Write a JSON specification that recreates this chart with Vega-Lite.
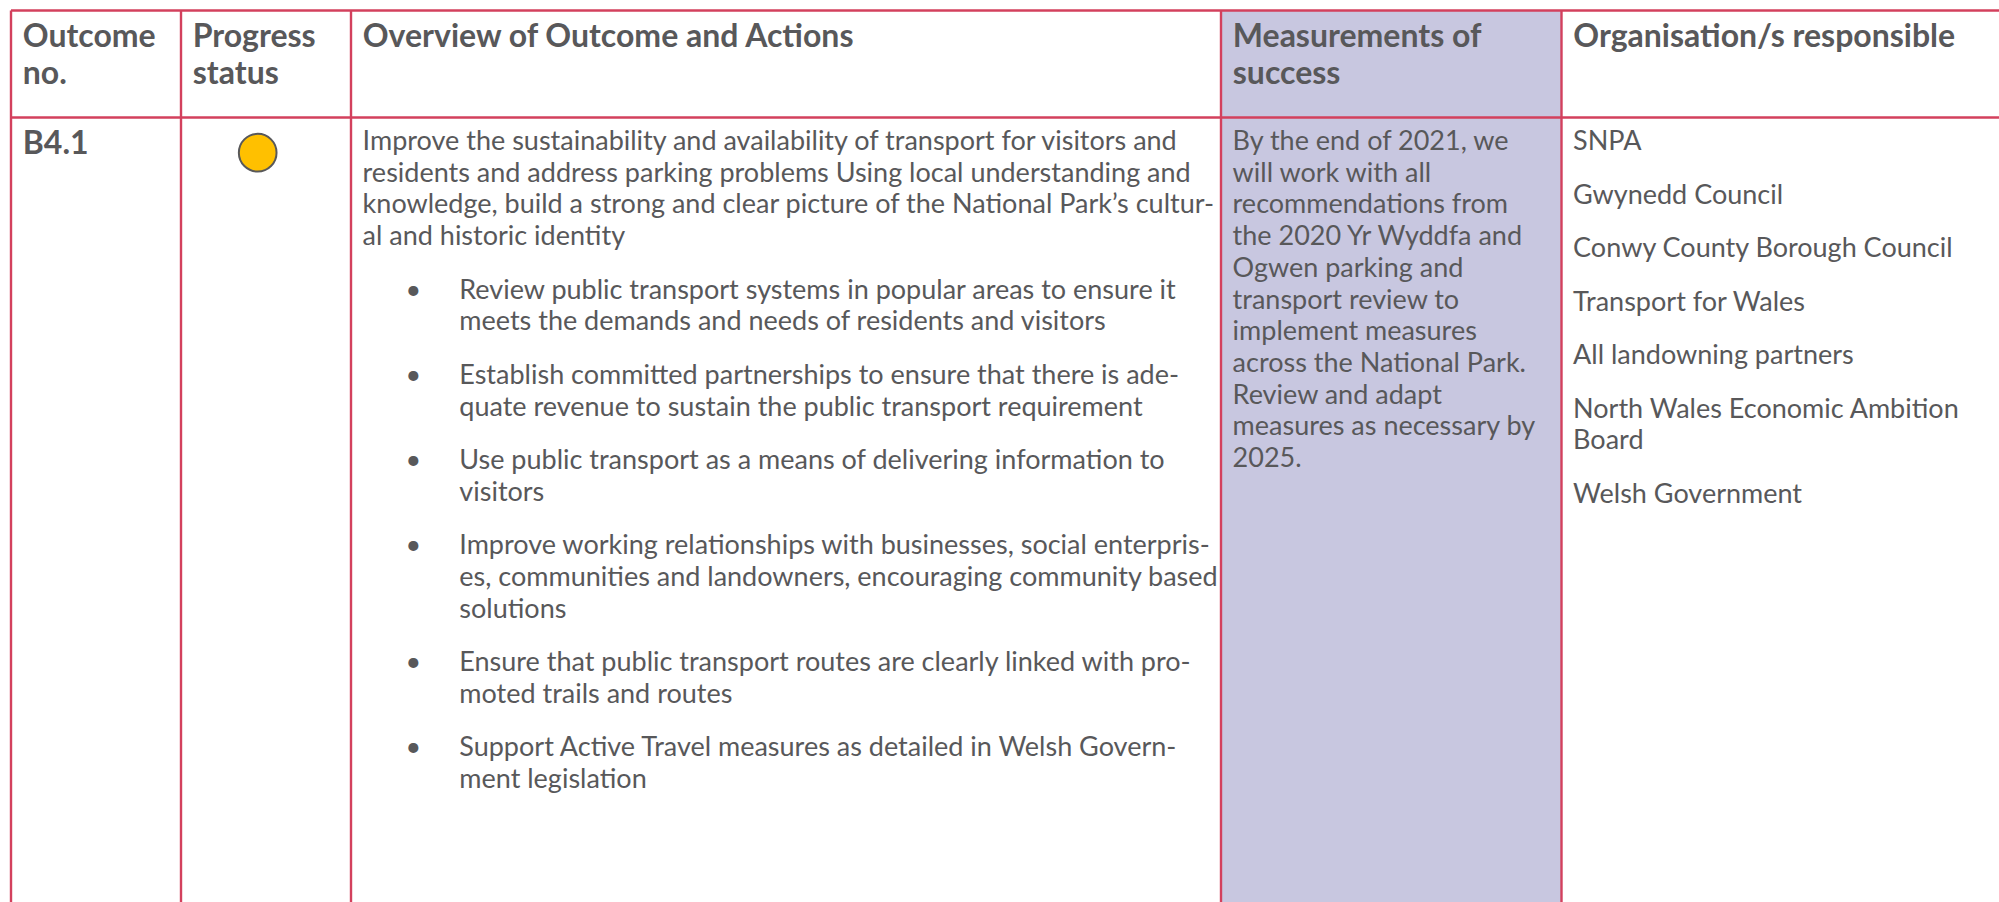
{
  "$schema": "https://vega.github.io/schema/vega-lite/v6.json",
  "width": 1999,
  "height": 902,
  "padding": 0,
  "autosize": {"type": "none"},
  "background": "#ffffff",
  "config": {
    "view": {"stroke": null},
    "axis": {"disable": true},
    "text": {"font": "Lato", "color": "#58585a", "align": "left", "baseline": "alphabetic"}
  },
  "datasets": {
    "columns": [
      {"col": 0, "name": "Outcome no."},
      {"col": 1, "name": "Progress status"},
      {"col": 2, "name": "Overview of Outcome and Actions"},
      {"col": 3, "name": "Measurements of success"},
      {"col": 4, "name": "Organisation/s responsible"}
    ],
    "rows": [
      {"row": 0, "name": "header"},
      {"row": 1, "name": "B4.1"}
    ],
    "header": [
      {"col": 0, "line": 0, "text": "Outcome"},
      {"col": 0, "line": 1, "text": "no."},
      {"col": 1, "line": 0, "text": "Progress"},
      {"col": 1, "line": 1, "text": "status"},
      {"col": 2, "line": 0, "text": "Overview of Outcome and Actions"},
      {"col": 3, "line": 0, "text": "Measurements of"},
      {"col": 3, "line": 1, "text": "success"},
      {"col": 4, "line": 0, "text": "Organisation/s responsible"}
    ],
    "body": [
      {"col": 0, "line": 0, "para": 0, "kind": "id", "text": "B4.1"},
      {"col": 1, "line": 0, "para": 0, "kind": "status", "text": "Amber"},
      {"col": 2, "line": 0, "para": 0, "kind": "text", "text": "Improve the sustainability and availability of transport for visitors and"},
      {"col": 2, "line": 1, "para": 0, "kind": "text", "text": "residents and address parking problems Using local understanding and"},
      {"col": 2, "line": 2, "para": 0, "kind": "text", "text": "knowledge, build a strong and clear picture of the National Park’s cultur-"},
      {"col": 2, "line": 3, "para": 0, "kind": "text", "text": "al and historic identity"},
      {"col": 2, "line": 4, "para": 1, "kind": "bullet", "text": "Review public transport systems in popular areas to ensure it"},
      {"col": 2, "line": 5, "para": 1, "kind": "bullet-cont", "text": "meets the demands and needs of residents and visitors"},
      {"col": 2, "line": 6, "para": 2, "kind": "bullet", "text": "Establish committed partnerships to ensure that there is ade-"},
      {"col": 2, "line": 7, "para": 2, "kind": "bullet-cont", "text": "quate revenue to sustain the public transport requirement"},
      {"col": 2, "line": 8, "para": 3, "kind": "bullet", "text": "Use public transport as a means of delivering information to"},
      {"col": 2, "line": 9, "para": 3, "kind": "bullet-cont", "text": "visitors"},
      {"col": 2, "line": 10, "para": 4, "kind": "bullet", "text": "Improve working relationships with businesses, social enterpris-"},
      {"col": 2, "line": 11, "para": 4, "kind": "bullet-cont", "text": "es, communities and landowners, encouraging community based"},
      {"col": 2, "line": 12, "para": 4, "kind": "bullet-cont", "text": "solutions"},
      {"col": 2, "line": 13, "para": 5, "kind": "bullet", "text": "Ensure that public transport routes are clearly linked with pro-"},
      {"col": 2, "line": 14, "para": 5, "kind": "bullet-cont", "text": "moted trails and routes"},
      {"col": 2, "line": 15, "para": 6, "kind": "bullet", "text": "Support Active Travel measures as detailed in Welsh Govern-"},
      {"col": 2, "line": 16, "para": 6, "kind": "bullet-cont", "text": "ment legislation"},
      {"col": 3, "line": 0, "para": 0, "kind": "text", "text": "By the end of 2021, we"},
      {"col": 3, "line": 1, "para": 0, "kind": "text", "text": "will work with all"},
      {"col": 3, "line": 2, "para": 0, "kind": "text", "text": "recommendations from"},
      {"col": 3, "line": 3, "para": 0, "kind": "text", "text": "the 2020 Yr Wyddfa and"},
      {"col": 3, "line": 4, "para": 0, "kind": "text", "text": "Ogwen parking and"},
      {"col": 3, "line": 5, "para": 0, "kind": "text", "text": "transport review to"},
      {"col": 3, "line": 6, "para": 0, "kind": "text", "text": "implement measures"},
      {"col": 3, "line": 7, "para": 0, "kind": "text", "text": "across the National Park."},
      {"col": 3, "line": 8, "para": 0, "kind": "text", "text": "Review and adapt"},
      {"col": 3, "line": 9, "para": 0, "kind": "text", "text": "measures as necessary by"},
      {"col": 3, "line": 10, "para": 0, "kind": "text", "text": "2025."},
      {"col": 4, "line": 0, "para": 0, "kind": "text", "text": "SNPA"},
      {"col": 4, "line": 1, "para": 1, "kind": "text", "text": "Gwynedd Council"},
      {"col": 4, "line": 2, "para": 2, "kind": "text", "text": "Conwy County Borough Council"},
      {"col": 4, "line": 3, "para": 3, "kind": "text", "text": "Transport for Wales"},
      {"col": 4, "line": 4, "para": 4, "kind": "text", "text": "All landowning partners"},
      {"col": 4, "line": 5, "para": 5, "kind": "text", "text": "North Wales Economic Ambition"},
      {"col": 4, "line": 6, "para": 5, "kind": "text", "text": "Board"},
      {"col": 4, "line": 7, "para": 6, "kind": "text", "text": "Welsh Government"}
    ]
  },
  "layer": [
    {
      "data": {"name": "columns"},
      "transform": [{"filter": "datum.col == 3"}],
      "mark": {"type": "rect", "color": "#c8c7e0"},
      "encoding": {
        "x": {"field": "col", "type": "quantitative", "axis": null, "scale": {"domain": [0, 1, 2, 3, 4, 5], "range": [11, 181, 351, 1221, 1561.5, 2200], "nice": false, "zero": false}},
        "x2": {"datum": 4},
        "y": {"datum": 0, "type": "quantitative", "axis": null, "scale": {"domain": [0, 1, 2], "range": [10.5, 117.5, 1000], "nice": false, "zero": false}},
        "y2": {"datum": 2}
      }
    },
    {
      "data": {"name": "columns"},
      "mark": {"type": "rule", "color": "#d3405d", "strokeWidth": 2.4},
      "encoding": {
        "x": {"field": "col", "type": "quantitative", "axis": null, "scale": {"domain": [0, 1, 2, 3, 4, 5], "range": [11, 181, 351, 1221, 1561.5, 2200], "nice": false, "zero": false}},
        "y": {"datum": 0, "type": "quantitative", "axis": null, "scale": {"domain": [0, 1, 2], "range": [10.5, 117.5, 1000], "nice": false, "zero": false}},
        "y2": {"datum": 2}
      }
    },
    {
      "data": {"name": "rows"},
      "mark": {"type": "rule", "color": "#d3405d", "strokeWidth": 2.4},
      "encoding": {
        "x": {"datum": 0, "type": "quantitative", "axis": null, "scale": {"domain": [0, 1, 2, 3, 4, 5], "range": [11, 181, 351, 1221, 1561.5, 2200], "nice": false, "zero": false}},
        "x2": {"datum": 5},
        "y": {"field": "row", "type": "quantitative", "axis": null, "scale": {"domain": [0, 1, 2], "range": [10.5, 117.5, 1000], "nice": false, "zero": false}}
      }
    },
    {
      "data": {"name": "header"},
      "mark": {"type": "text", "fontWeight": "bold", "fontSize": 32, "dx": 11.8},
      "encoding": {
        "x": {"field": "col", "type": "quantitative", "axis": null, "scale": {"domain": [0, 1, 2, 3, 4, 5], "range": [11, 181, 351, 1221, 1561.5, 2200], "nice": false, "zero": false}},
        "y": {"field": "line", "type": "quantitative", "axis": null, "scale": {"domain": [0, 1], "range": [46.7, 84], "nice": false, "zero": false}},
        "text": {"field": "text"}
      }
    },
    {
      "data": {"name": "body"},
      "transform": [{"filter": "datum.kind == 'id'"}],
      "mark": {"type": "text", "fontWeight": "bold", "fontSize": 32, "dx": 11.8, "yOffset": 4},
      "encoding": {
        "x": {"field": "col", "type": "quantitative", "axis": null, "scale": {"domain": [0, 1, 2, 3, 4, 5], "range": [11, 181, 351, 1221, 1561.5, 2200], "nice": false, "zero": false}},
        "y": {"field": "line", "type": "quantitative", "axis": null, "scale": {"domain": [0, 1], "range": [150, 181.7], "nice": false, "zero": false}},
        "text": {"field": "text"}
      }
    },
    {
      "data": {"name": "body"},
      "transform": [{"filter": "datum.kind == 'status'"}],
      "mark": {"type": "point", "shape": "circle", "filled": true, "fill": "#ffc000", "stroke": "#58585a", "strokeWidth": 2, "opacity": 1, "size": 1420, "xOffset": 76.7, "yOffset": 2.7},
      "encoding": {
        "x": {"field": "col", "type": "quantitative", "axis": null, "scale": {"domain": [0, 1, 2, 3, 4, 5], "range": [11, 181, 351, 1221, 1561.5, 2200], "nice": false, "zero": false}},
        "y": {"field": "line", "type": "quantitative", "axis": null, "scale": {"domain": [0, 1], "range": [150, 181.7], "nice": false, "zero": false}}
      }
    },
    {
      "data": {"name": "body"},
      "transform": [{"filter": "datum.kind == 'text'"}],
      "mark": {"type": "text", "fontSize": 27, "dx": 11.6},
      "encoding": {
        "x": {"field": "col", "type": "quantitative", "axis": null, "scale": {"domain": [0, 1, 2, 3, 4, 5], "range": [11, 181, 351, 1221, 1561.5, 2200], "nice": false, "zero": false}},
        "y": {"field": "line", "type": "ordinal", "axis": null, "scale": {"type": "point", "domain": [0, 1, 2, 3, 4, 5, 6, 7, 8, 9, 10, 11, 12, 13, 14, 15, 16], "range": [150, 657.2], "padding": 0}},
        "yOffset": {"field": "para", "type": "quantitative", "scale": {"domain": [0, 1], "range": [0, 21.8], "nice": false, "zero": false}},
        "text": {"field": "text"}
      }
    },
    {
      "data": {"name": "body"},
      "transform": [{"filter": "datum.kind == 'bullet' || datum.kind == 'bullet-cont'"}],
      "mark": {"type": "text", "fontSize": 27, "dx": 108.3},
      "encoding": {
        "x": {"field": "col", "type": "quantitative", "axis": null, "scale": {"domain": [0, 1, 2, 3, 4, 5], "range": [11, 181, 351, 1221, 1561.5, 2200], "nice": false, "zero": false}},
        "y": {"field": "line", "type": "ordinal", "axis": null, "scale": {"type": "point", "domain": [0, 1, 2, 3, 4, 5, 6, 7, 8, 9, 10, 11, 12, 13, 14, 15, 16], "range": [150, 657.2], "padding": 0}},
        "yOffset": {"field": "para", "type": "quantitative", "scale": {"domain": [0, 1], "range": [0, 21.8], "nice": false, "zero": false}},
        "text": {"field": "text"}
      }
    },
    {
      "data": {"name": "body"},
      "transform": [{"filter": "datum.kind == 'bullet'"}],
      "mark": {"type": "text", "fontSize": 27, "dx": 62.3, "align": "center", "text": "•"},
      "encoding": {
        "x": {"field": "col", "type": "quantitative", "axis": null, "scale": {"domain": [0, 1, 2, 3, 4, 5], "range": [11, 181, 351, 1221, 1561.5, 2200], "nice": false, "zero": false}},
        "y": {"field": "line", "type": "ordinal", "axis": null, "scale": {"type": "point", "domain": [0, 1, 2, 3, 4, 5, 6, 7, 8, 9, 10, 11, 12, 13, 14, 15, 16], "range": [150, 657.2], "padding": 0}},
        "yOffset": {"field": "para", "type": "quantitative", "scale": {"domain": [0, 1], "range": [0, 21.8], "nice": false, "zero": false}}
      }
    }
  ],
  "resolve": {"scale": {"y": "independent", "yOffset": "independent"}}
}
